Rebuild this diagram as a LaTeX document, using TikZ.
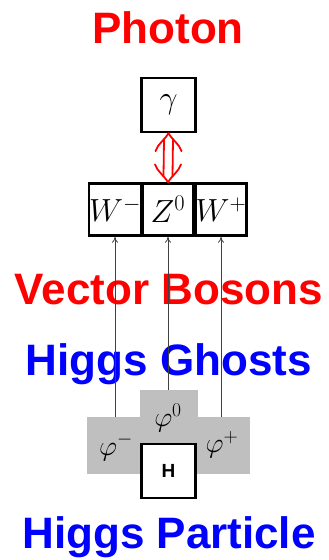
\documentclass[tikz,border=0pt]{standalone}
\usepackage{fix-cm}
\usepackage{fontspec}
\newfontfamily\arial{Liberation Sans}
\usetikzlibrary{arrows.meta,calc}
\begin{document}
\begin{tikzpicture}[x=1pt,y=-1pt,
  box/.style={draw, line width=2.4pt, minimum width=51pt, minimum height=52pt, inner sep=0pt, font=\fontsize{32}{34}\selectfont},
  title/.style={anchor=base, inner sep=0pt, font=\arial\bfseries\fontsize{44}{50}\selectfont},
  conn/.style={draw=black!75, line width=0.8pt, -{To[length=6pt,width=6pt]}},
  ghost/.style={fill=black!25, draw=none},
  philab/.style={inner sep=0pt, font=\fontsize{28}{30}\selectfont},
  dbl/.style={draw=red, line width=1.8pt, line cap=round, line join=round}]
\useasboundingbox (0,0) rectangle (329,560);
% titles
\node[title, text=red] (tph) at (168,43) {Photon};
\node[title, text=red] (tvb) at (169,304) {Vector Bosons};
\node[title, text=blue] (thg) at (169,375) {Higgs Ghosts};
\node[title, text=blue] (thp) at (169,548) {Higgs Particle};
% ghost field region
\fill[ghost] (87,417) rectangle (250,474);
\fill[ghost] (140,390) rectangle (198,418);
\coordinate (gm) at (115,417);
\coordinate (g0) at (168,390);
\coordinate (gp) at (221,417);
\node[philab] (phim) at (116,447) {$\varphi^-$};
\node[philab] (phi0) at (168,418) {$\varphi^0$};
\node[philab] (phip) at (222,445) {$\varphi^+$};
% boxes
\node[box, minimum width=54pt, minimum height=54pt] (g) at (168.5,105) {$\gamma$};
\node[box] (wm) at (115,209.5) {$W^-$};
\node[box] (z) at (168,209.5) {$Z^0$};
\node[box] (wp) at (221,209.5) {$W^+$};
\node[box, fill=white, minimum width=54pt, minimum height=54pt, font=\arial\bfseries\fontsize{19}{20}\selectfont] (h) at (168.5,471) {H};
% connectors
\draw[conn] (gm) -- (wm.south);
\draw[conn] (g0) -- (z.south);
\draw[conn] (gp) -- (wp.south);
% red double arrow between photon and Z
\coordinate (at) at (g.south);
\coordinate (ab) at (z.north);
\draw[dbl] ($(at)+(-4.5,6)$) -- ($(ab)+(-4.5,-6)$);
\draw[dbl] ($(at)+(4.5,6)$) -- ($(ab)+(4.5,-6)$);
\draw[dbl] ($(at)+(-13,18)$) .. controls ($(at)+(-11,11)$) and ($(at)+(-4,7)$) .. (at)
  .. controls ($(at)+(4,7)$) and ($(at)+(11,11)$) .. ($(at)+(13,18)$);
\draw[dbl] ($(ab)+(-13,-18)$) .. controls ($(ab)+(-11,-11)$) and ($(ab)+(-4,-7)$) .. (ab)
  .. controls ($(ab)+(4,-7)$) and ($(ab)+(11,-11)$) .. ($(ab)+(13,-18)$);
\end{tikzpicture}
\end{document}
